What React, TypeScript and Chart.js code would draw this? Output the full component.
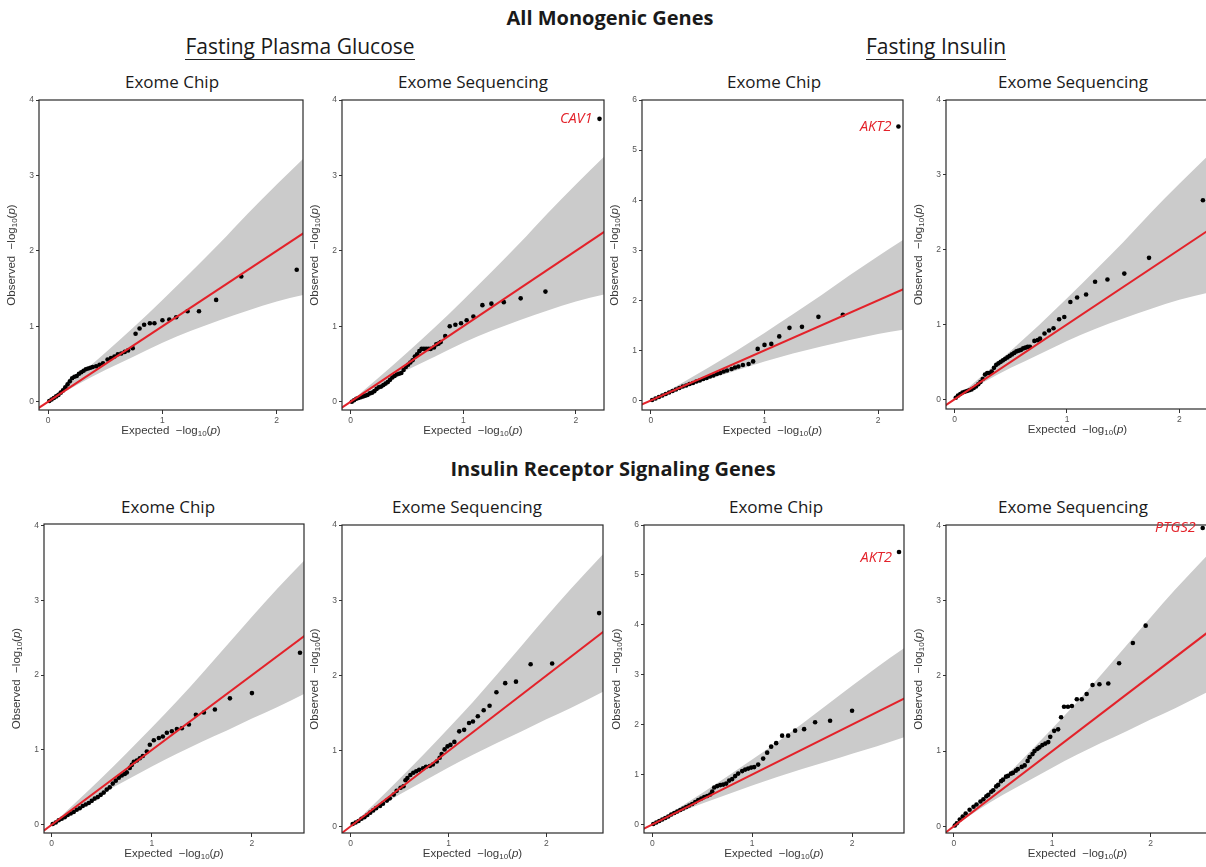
import React, { useEffect, useRef } from 'react';
import { Chart, registerables } from 'chart.js';
Chart.register(...registerables);

// ---------------- DATA ----------------
// Fasting Plasma Glucose – All Monogenic Genes – Exome Chip
const fpgChipX = [0.01,0.03,0.05,0.07,0.09,0.11,0.13,0.15,0.17,0.19,0.21,0.23,0.25,0.27,0.29,0.31,0.33,0.35,0.37,0.39,0.42,0.45,0.48,0.52,0.55,0.58,0.61,0.64,0.67,0.70,0.74,0.765,0.80,0.84,0.89,0.93,1.0,1.06,1.12,1.22,1.32,1.47,1.69,2.175];
const fpgChipY = [0.01,0.03,0.05,0.07,0.09,0.12,0.15,0.19,0.23,0.27,0.31,0.33,0.34,0.37,0.39,0.41,0.43,0.44,0.45,0.46,0.47,0.49,0.51,0.56,0.58,0.60,0.63,0.64,0.66,0.68,0.71,0.90,0.97,1.02,1.04,1.04,1.08,1.09,1.12,1.20,1.20,1.35,1.66,1.75];
// Fasting Plasma Glucose – All Monogenic Genes – Exome Sequencing
const fpgSeqX = [0.01,0.03,0.05,0.07,0.09,0.11,0.13,0.15,0.17,0.19,0.21,0.23,0.25,0.27,0.29,0.31,0.33,0.35,0.37,0.39,0.41,0.43,0.45,0.47,0.49,0.51,0.53,0.55,0.57,0.59,0.61,0.63,0.65,0.67,0.69,0.71,0.74,0.76,0.78,0.80,0.84,0.88,0.93,0.98,1.03,1.09,1.17,1.25,1.36,1.51,1.73,2.21];
const fpgSeqY = [0.0,0.02,0.04,0.05,0.06,0.07,0.08,0.09,0.11,0.12,0.14,0.17,0.19,0.20,0.22,0.24,0.26,0.29,0.32,0.34,0.36,0.37,0.38,0.42,0.46,0.49,0.52,0.55,0.60,0.63,0.67,0.70,0.70,0.70,0.70,0.70,0.72,0.76,0.77,0.79,0.87,1.00,1.02,1.04,1.08,1.13,1.28,1.30,1.32,1.37,1.46,3.75];
// Fasting Insulin – All Monogenic Genes – Exome Chip
const fiChipX = [0.01,0.04,0.07,0.10,0.13,0.16,0.19,0.22,0.25,0.28,0.31,0.34,0.37,0.40,0.43,0.46,0.49,0.52,0.55,0.58,0.61,0.64,0.67,0.71,0.74,0.77,0.81,0.86,0.90,0.94,1.0,1.06,1.13,1.22,1.33,1.475,1.69,2.18];
const fiChipY = [0.01,0.04,0.07,0.10,0.13,0.16,0.19,0.22,0.25,0.28,0.30,0.33,0.35,0.38,0.40,0.43,0.45,0.48,0.50,0.53,0.55,0.58,0.60,0.63,0.66,0.68,0.71,0.73,0.78,1.03,1.11,1.13,1.28,1.45,1.47,1.67,1.71,5.47];
// Fasting Insulin – All Monogenic Genes – Exome Sequencing
const fiSeqX = [0.01,0.03,0.05,0.07,0.09,0.11,0.13,0.15,0.17,0.19,0.21,0.23,0.25,0.27,0.29,0.31,0.33,0.35,0.37,0.39,0.41,0.43,0.45,0.47,0.49,0.51,0.53,0.55,0.57,0.59,0.61,0.63,0.65,0.67,0.71,0.74,0.76,0.80,0.84,0.88,0.93,0.976,1.03,1.09,1.17,1.25,1.36,1.51,1.73,2.21];
const fiSeqY = [0.02,0.05,0.07,0.09,0.10,0.11,0.12,0.13,0.15,0.17,0.20,0.23,0.27,0.33,0.35,0.35,0.37,0.42,0.46,0.48,0.50,0.52,0.54,0.56,0.58,0.60,0.62,0.64,0.65,0.66,0.68,0.69,0.70,0.70,0.78,0.79,0.81,0.88,0.92,0.95,1.07,1.10,1.30,1.36,1.40,1.57,1.60,1.68,1.89,2.66];
// Insulin Receptor Signaling Genes – FPG – Exome Chip
const irsFpgChipX = [0.01,0.04,0.07,0.10,0.13,0.16,0.19,0.22,0.25,0.28,0.31,0.34,0.37,0.40,0.43,0.46,0.49,0.52,0.55,0.58,0.61,0.64,0.67,0.70,0.73,0.75,0.78,0.80,0.82,0.85,0.88,0.91,0.95,0.98,1.02,1.07,1.11,1.15,1.20,1.25,1.30,1.37,1.44,1.52,1.63,1.78,2.0,2.48];
const irsFpgChipY = [0.01,0.03,0.06,0.08,0.10,0.13,0.15,0.17,0.20,0.22,0.25,0.27,0.29,0.32,0.35,0.37,0.40,0.43,0.47,0.50,0.55,0.59,0.63,0.66,0.68,0.70,0.76,0.80,0.84,0.86,0.89,0.92,0.98,1.07,1.13,1.16,1.18,1.23,1.25,1.28,1.29,1.34,1.47,1.50,1.54,1.69,1.76,2.30];
// Insulin Receptor Signaling Genes – FPG – Exome Sequencing
const irsFpgSeqX = [0.02,0.05,0.08,0.11,0.14,0.17,0.20,0.23,0.26,0.30,0.33,0.37,0.40,0.44,0.47,0.51,0.54,0.56,0.58,0.61,0.64,0.67,0.70,0.74,0.77,0.81,0.84,0.88,0.91,0.93,0.96,0.99,1.02,1.06,1.11,1.16,1.21,1.25,1.30,1.36,1.42,1.49,1.58,1.69,1.84,2.06,2.54];
const irsFpgSeqY = [0.03,0.05,0.07,0.10,0.12,0.15,0.18,0.21,0.24,0.27,0.30,0.34,0.37,0.42,0.47,0.51,0.53,0.61,0.64,0.68,0.71,0.73,0.75,0.77,0.79,0.80,0.82,0.86,0.91,0.96,1.02,1.06,1.08,1.12,1.26,1.28,1.37,1.39,1.46,1.54,1.60,1.78,1.90,1.92,2.15,2.16,2.83];
// Insulin Receptor Signaling Genes – FI – Exome Chip
const irsFiChipX = [0.01,0.04,0.07,0.10,0.13,0.16,0.19,0.22,0.25,0.28,0.31,0.34,0.37,0.40,0.43,0.46,0.49,0.52,0.55,0.58,0.60,0.62,0.65,0.68,0.71,0.74,0.77,0.80,0.83,0.86,0.90,0.93,0.96,0.99,1.02,1.06,1.11,1.15,1.19,1.24,1.30,1.36,1.43,1.52,1.63,1.78,2.0,2.47];
const irsFiChipY = [0.01,0.04,0.07,0.10,0.13,0.16,0.20,0.23,0.26,0.29,0.32,0.35,0.38,0.41,0.45,0.49,0.52,0.55,0.57,0.60,0.66,0.74,0.77,0.79,0.80,0.82,0.88,0.91,0.97,1.02,1.07,1.10,1.12,1.14,1.15,1.20,1.32,1.44,1.56,1.63,1.78,1.78,1.88,1.91,2.05,2.08,2.28,5.46];
// Insulin Receptor Signaling Genes – FI – Exome Sequencing
const irsFiSeqX = [0.01,0.03,0.06,0.09,0.12,0.16,0.20,0.23,0.27,0.30,0.33,0.35,0.38,0.40,0.43,0.45,0.48,0.50,0.53,0.55,0.58,0.60,0.63,0.65,0.69,0.72,0.75,0.77,0.80,0.82,0.85,0.87,0.90,0.93,0.96,0.98,1.02,1.06,1.09,1.12,1.16,1.20,1.25,1.30,1.35,1.41,1.48,1.57,1.68,1.82,1.95,2.53];
const irsFiSeqY = [0.01,0.04,0.09,0.13,0.17,0.22,0.26,0.29,0.33,0.36,0.40,0.42,0.46,0.48,0.53,0.55,0.60,0.62,0.66,0.67,0.70,0.71,0.74,0.76,0.79,0.81,0.87,0.92,0.96,1.00,1.03,1.05,1.08,1.10,1.12,1.19,1.27,1.29,1.45,1.59,1.59,1.60,1.69,1.69,1.76,1.88,1.89,1.90,2.17,2.44,2.67,3.97];

// Confidence bands
const bandTopX = [0, 0.25, 0.5, 0.75, 1.0, 1.25, 1.5, 1.75, 2.0, 2.3];
const bandTopUpper = [0, 0.32, 0.65, 0.99, 1.35, 1.72, 2.1, 2.5, 2.88, 3.32];
const bandTopLower = [0, 0.22, 0.42, 0.60, 0.78, 0.94, 1.08, 1.21, 1.33, 1.44];
const bandBotX = [0, 0.25, 0.5, 0.75, 1.0, 1.25, 1.5, 1.75, 2.0, 2.25, 2.6];
const bandBotUpper = [0, 0.31, 0.63, 0.96, 1.30, 1.65, 2.02, 2.40, 2.78, 3.15, 3.64];
const bandBotLower = [0, 0.22, 0.42, 0.60, 0.78, 0.95, 1.11, 1.26, 1.42, 1.57, 1.80];

// identity reference line (expected = observed)
const refLine = [-0.5, 3];

// axis limits
const xLimits = [[-0.08, 2.23], [-0.077, 2.25], [-0.079, 2.22], [-0.077, 2.264], [-0.077, 2.52], [-0.089, 2.58], [-0.083, 2.52], [-0.08, 2.594]];
const yLimits = [[-0.11, 4], [-0.11, 4], [-0.19, 6], [-0.13, 4], [-0.11, 4.02], [-0.09, 4], [-0.17, 6], [-0.09, 4.01]];

const panelTitles = ['Exome Chip', 'Exome Sequencing', 'Exome Chip', 'Exome Sequencing', 'Exome Chip', 'Exome Sequencing', 'Exome Chip', 'Exome Sequencing'];
const geneLabels = ['', 'CAV1', 'AKT2', '', '', '', 'AKT2', 'PTGS2'];

// ---------------- LAYOUT ----------------
const RED = '#e3222a';
const GRAY = '#cbcbcb';
const PAD_L = 42, PAD_T = 8, PAD_R = 6, PAD_B = 36;

const rects = [
  { l: 39, t: 100, r: 303, b: 410 },
  { l: 342, t: 100, r: 604, b: 410 },
  { l: 642, t: 100, r: 903, b: 410 },
  { l: 946, t: 100, r: 1209, b: 409 },
  { l: 44, t: 524, r: 304, b: 833 },
  { l: 342, t: 525, r: 603, b: 833 },
  { l: 644, t: 525, r: 904, b: 833 },
  { l: 946, t: 525, r: 1209, b: 833 },
];
const titleCx = [172, 473, 774, 1073, 168, 467, 776, 1073];
const labelDy = [0, 0, 0, 0, 0, 0, 6, 0];

const seriesX = [fpgChipX, fpgSeqX, fiChipX, fiSeqX, irsFpgChipX, irsFpgSeqX, irsFiChipX, irsFiSeqX];
const seriesY = [fpgChipY, fpgSeqY, fiChipY, fiSeqY, irsFpgChipY, irsFpgSeqY, irsFiChipY, irsFiSeqY];

function drawLogLabel(ctx: CanvasRenderingContext2D, prefix: string, cx: number, cy: number, rotate: boolean) {
  ctx.save();
  ctx.translate(cx, cy);
  if (rotate) ctx.rotate(-Math.PI / 2);
  const fam = '"Liberation Sans", Arial, sans-serif';
  const parts: any[] = [
    { t: prefix + '  \u2212log', f: `11.5px ${fam}`, dy: 0 },
    { t: '10', f: `8px ${fam}`, dy: 3 },
    { t: '(', f: `11.5px ${fam}`, dy: 0 },
    { t: 'p', f: `italic 11.5px ${fam}`, dy: 0 },
    { t: ')', f: `11.5px ${fam}`, dy: 0 },
  ];
  let total = 0;
  parts.forEach((p) => { ctx.font = p.f; p.w = ctx.measureText(p.t).width; total += p.w; });
  let x = -total / 2;
  ctx.fillStyle = '#3a3a3a';
  ctx.textBaseline = 'middle';
  ctx.textAlign = 'left';
  parts.forEach((p) => { ctx.font = p.f; ctx.fillText(p.t, x, p.dy); x += p.w; });
  ctx.restore();
}

function QQPanel({ idx }: { idx: number }) {
  const ref = useRef<HTMLCanvasElement>(null);
  const rc = rects[idx];
  const w = rc.r - rc.l + PAD_L + PAD_R;
  const h = rc.b - rc.t + PAD_T + PAD_B;
  useEffect(() => {
    const top = idx < 4;
    const bx = top ? bandTopX : bandBotX;
    const bu = top ? bandTopUpper : bandBotUpper;
    const bl = top ? bandTopLower : bandBotLower;
    const xs = seriesX[idx];
    const ys = seriesY[idx];
    const label = geneLabels[idx];
    const decor = {
      id: 'qqDecor',
      afterDatasetsDraw(chart: any) {
        const { ctx, chartArea: a } = chart;
        ctx.save();
        ctx.strokeStyle = '#2a2a2a';
        ctx.lineWidth = 1.2;
        ctx.strokeRect(a.left, a.top, a.right - a.left, a.bottom - a.top);
        ctx.restore();
        drawLogLabel(ctx, 'Expected', (a.left + a.right) / 2, a.bottom + 21, false);
        drawLogLabel(ctx, 'Observed', a.left - 27, (a.top + a.bottom) / 2, true);
        if (label) {
          const meta = chart.getDatasetMeta(1);
          const pt = meta.data[meta.data.length - 1];
          ctx.save();
          ctx.font = 'italic 14.5px "Open Sans", sans-serif';
          ctx.fillStyle = RED;
          ctx.textAlign = 'right';
          ctx.textBaseline = 'middle';
          ctx.fillText(label, pt.x - 7, pt.y + labelDy[idx]);
          ctx.restore();
        }
      },
    };
    const tickFont = { size: 8.5, family: '"Liberation Sans", Arial, sans-serif' };
    const chart = new Chart(ref.current as HTMLCanvasElement, {
      type: 'line',
      data: {
        datasets: [
          {
            data: refLine.map((v) => ({ x: v, y: v })),
            borderColor: RED, borderWidth: 2, pointRadius: 0, fill: false, order: 0,
          },
          {
            data: xs.map((v, i) => ({ x: v, y: ys[i] })),
            showLine: false, pointRadius: 2.3, pointBackgroundColor: '#000', pointBorderWidth: 0,
            borderColor: '#000', order: 1,
          },
          {
            data: bx.map((v, i) => ({ x: v, y: bu[i] })),
            borderColor: 'rgba(0,0,0,0)', borderWidth: 0, pointRadius: 0, backgroundColor: GRAY,
            fill: '+1', cubicInterpolationMode: 'monotone', order: 2,
          },
          {
            data: bx.map((v, i) => ({ x: v, y: bl[i] })),
            borderColor: 'rgba(0,0,0,0)', borderWidth: 0, pointRadius: 0, fill: false,
            cubicInterpolationMode: 'monotone', order: 3,
          },
        ],
      } as any,
      options: {
        responsive: false,
        animation: false,
        events: [],
        layout: { padding: { left: 0, top: PAD_T, right: PAD_R, bottom: 0 } },
        plugins: { legend: { display: false }, tooltip: { enabled: false } },
        scales: {
          x: {
            type: 'linear',
            min: xLimits[idx][0], max: xLimits[idx][1],
            afterFit: (s: any) => { s.height = PAD_B; },
            ticks: { stepSize: 1, includeBounds: false, font: tickFont, color: '#555', padding: 2, maxRotation: 0, callback: (v: any) => String(v) },
            grid: { drawOnChartArea: false, drawTicks: true, tickLength: 4, color: '#333' },
            border: { display: false },
          },
          y: {
            type: 'linear',
            min: yLimits[idx][0], max: yLimits[idx][1],
            afterFit: (s: any) => { s.width = PAD_L; },
            ticks: { stepSize: 1, includeBounds: false, font: tickFont, color: '#555', padding: 2, callback: (v: any) => String(v) },
            grid: { drawOnChartArea: false, drawTicks: true, tickLength: 3, color: '#333' },
            border: { display: false },
          },
        },
      } as any,
      plugins: [decor],
    });
    return () => chart.destroy();
  }, [idx]);
  return (
    <canvas
      ref={ref}
      width={w}
      height={h}
      style={{ position: 'absolute', left: rc.l - PAD_L, top: rc.t - PAD_T, width: w, height: h }}
    />
  );
}

function Text({ text, cx, top, size, bold, underline }: any) {
  return (
    <div
      style={{
        position: 'absolute', left: cx - 300, top, width: 600, textAlign: 'center',
        fontFamily: '"Open Sans", sans-serif', fontSize: size, lineHeight: `${size}px`,
        fontWeight: bold ? 700 : 400, color: '#1a1a1a', whiteSpace: 'nowrap',
      }}
    >
      {underline ? (
        <span style={{ display: 'inline-block', borderBottom: '1.5px solid #222', paddingBottom: 2.5, lineHeight: `${size}px` }}>{text}</span>
      ) : text}
    </div>
  );
}

export default function App() {
  return (
    <div style={{ position: 'absolute', left: 0, top: 0, width: 1206, height: 867, overflow: 'hidden', background: '#fff' }}>
      <Text text="All Monogenic Genes" cx={610} top={8} size={20} bold />
      <Text text="Fasting Plasma Glucose" cx={300} top={35.5} size={21} underline />
      <Text text="Fasting Insulin" cx={936} top={35.5} size={21} underline />
      <Text text="Insulin Receptor Signaling Genes" cx={613} top={459} size={20} bold />
      {panelTitles.map((t, i) => (
        <Text key={'t' + i} text={t} cx={titleCx[i]} top={i < 4 ? 72.5 : 498} size={17} />
      ))}
      {rects.map((_, i) => <QQPanel key={'p' + i} idx={i} />)}
    </div>
  );
}
